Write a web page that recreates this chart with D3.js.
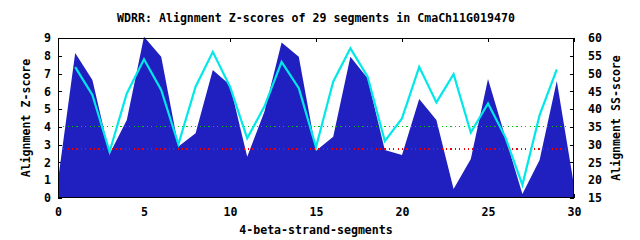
<!DOCTYPE html>
<html>
<head>
<meta charset="utf-8">
<script src="https://cdn.jsdelivr.net/npm/d3@7"></script>
<style>
  body { margin: 0; background: #fff; }
  svg text { font-family: "DejaVu Sans Mono", "Liberation Mono", monospace; font-weight: bold; font-size: 11.6px; fill: #000; }
</style>
</head>
<body>
<div id="chart"></div>
<script>
const width = 640, height = 240;
const margin = { top: 38, right: 66, bottom: 42, left: 58 };

// Z-score area, segment positions 0..30
const zPositions = d3.range(0, 31);
const zScores = [1.0, 8.16, 6.64, 2.47, 4.39, 9.07, 7.95, 2.89, 3.64, 7.2, 6.36,
                 2.32, 4.85, 8.74, 7.95, 2.66, 3.45, 7.95, 6.73, 2.7, 2.42,
                 5.57, 4.39, 0.5, 2.2, 6.69, 3.45, 0.22, 2.14, 6.58, 0.7];

// SS-score line, segments 1..29
const ssPositions = d3.range(1, 30);
const ssScores = [51.8, 44.0, 28.0, 44.4, 54.0, 45.4, 30.1, 46.3, 56.1, 46.3,
                  31.8, 40.7, 53.3, 45.9, 29.3, 47.7, 57.1, 49.1, 31.0, 37.4,
                  51.9, 41.9, 49.8, 33.4, 41.6, 32.2, 18.7, 38.3, 51.2];

// dotted reference levels (Z-score axis)
const refLevels = [4.03, 2.76];
const refColors = ["#00c000", "#f00000"];
const refSpan = [0.3, 29.7];

const xTicks = [0, 5, 10, 15, 20, 25, 30];
const yTicks = d3.range(0, 10);
const y2Ticks = d3.range(15, 61, 5);

const svg = d3.select("#chart").append("svg")
    .attr("width", width)
    .attr("height", height);

const x = d3.scaleLinear().domain([0, 30]).range([margin.left, width - margin.right]);
const y = d3.scaleLinear().domain([0, 9]).range([height - margin.bottom, margin.top]);
const y2 = d3.scaleLinear().domain([15, 60]).range([height - margin.bottom, margin.top]);

// axes (ticks point inward, drawn behind the data)
svg.append("g")
    .attr("transform", `translate(0,${height - margin.bottom})`)
    .call(d3.axisBottom(x).tickValues(xTicks).tickSize(-4).tickPadding(10))
    .call(g => g.select(".domain").remove());

svg.append("g")
    .attr("transform", `translate(0,${margin.top})`)
    .call(d3.axisTop(x).tickValues(xTicks).tickSize(-4).tickFormat(""))
    .call(g => g.select(".domain").remove());

svg.append("g")
    .attr("transform", `translate(${margin.left},0)`)
    .call(d3.axisLeft(y).tickValues(yTicks).tickSize(-4).tickPadding(7))
    .call(g => g.select(".domain").remove());

svg.append("g")
    .attr("transform", `translate(${width - margin.right},0)`)
    .call(d3.axisRight(y2).tickValues(y2Ticks).tickSize(-4).tickPadding(14))
    .call(g => g.select(".domain").remove());

svg.selectAll(".tick text").attr("font-size", null).attr("font-family", null);
svg.selectAll(".tick line").attr("shape-rendering", "crispEdges");

// Z-score filled area
const area = d3.area()
    .x((d, i) => x(zPositions[i]))
    .y0(y(0))
    .y1(d => y(d));

svg.append("path")
    .datum(zScores)
    .attr("d", area)
    .attr("fill", "#2020c0");

// dotted reference lines
refLevels.forEach((lv, i) => {
    svg.append("line")
        .attr("x1", x(refSpan[0])).attr("x2", x(refSpan[1]))
        .attr("y1", y(lv)).attr("y2", y(lv))
        .attr("stroke", refColors[i])
        .attr("stroke-width", 1.2)
        .attr("stroke-dasharray", "1.2,3.2")
        .attr("shape-rendering", "crispEdges");
});

// SS-score line
const line = d3.line()
    .x((d, i) => x(ssPositions[i]))
    .y(d => y2(d));

svg.append("path")
    .datum(ssScores)
    .attr("d", line)
    .attr("fill", "none")
    .attr("stroke", "#00e8e8")
    .attr("stroke-width", 2.2)
    .attr("stroke-linejoin", "miter");

// border
svg.append("rect")
    .attr("x", margin.left + 0.5)
    .attr("y", margin.top + 0.5)
    .attr("width", width - margin.left - margin.right - 1)
    .attr("height", height - margin.top - margin.bottom - 1)
    .attr("fill", "none")
    .attr("stroke", "#000")
    .attr("stroke-width", 1)
    .attr("shape-rendering", "crispEdges");

// title and axis labels
svg.append("text")
    .attr("x", 316).attr("y", 22)
    .attr("text-anchor", "middle")
    .text("WDRR: Alignment Z-scores of 29 segments in CmaCh11G019470");

svg.append("text")
    .attr("x", (margin.left + width - margin.right) / 2).attr("y", 234)
    .attr("text-anchor", "middle")
    .text("4-beta-strand-segments");

svg.append("text")
    .attr("transform", `translate(30,${(margin.top + height - margin.bottom) / 2}) rotate(-90)`)
    .attr("text-anchor", "middle")
    .text("Alignment Z-score");

svg.append("text")
    .attr("transform", `translate(620,${(margin.top + height - margin.bottom) / 2}) rotate(-90)`)
    .attr("text-anchor", "middle")
    .text("Alignment SS-score");
</script>
</body>
</html>
